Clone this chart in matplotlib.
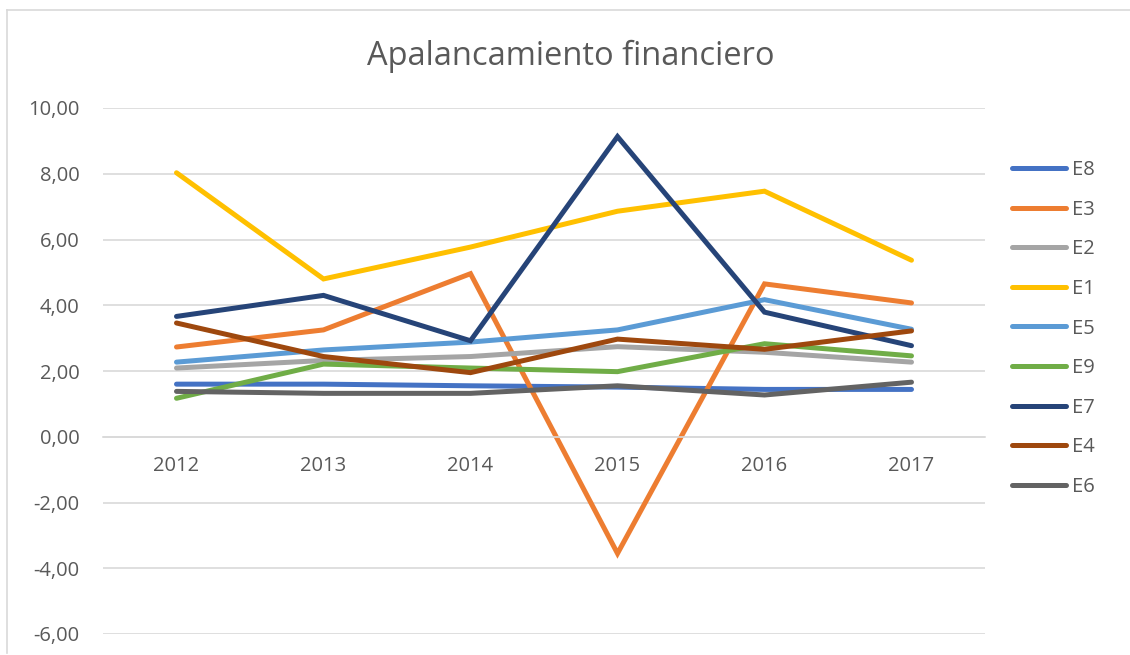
import matplotlib
matplotlib.use('Agg')
import matplotlib.pyplot as plt
from matplotlib.lines import Line2D

years = ['2012', '2013', '2014', '2015', '2016', '2017']

# series in legend order
E8 = [1.60, 1.60, 1.55, 1.51, 1.44, 1.44]
E3 = [2.73, 3.25, 4.96, -3.55, 4.65, 4.07]
E2 = [2.09, 2.32, 2.44, 2.74, 2.57, 2.27]
E1 = [8.03, 4.80, 5.77, 6.86, 7.47, 5.37]
E5 = [2.27, 2.64, 2.88, 3.25, 4.17, 3.27]
E9 = [1.17, 2.21, 2.09, 1.98, 2.83, 2.46]
E7 = [3.66, 4.30, 2.92, 9.13, 3.79, 2.77]
E4 = [3.46, 2.44, 1.95, 2.97, 2.66, 3.22]
E6 = [1.38, 1.32, 1.32, 1.55, 1.27, 1.66]

names = ['E8', 'E3', 'E2', 'E1', 'E5', 'E9', 'E7', 'E4', 'E6']
series = [E8, E3, E2, E1, E5, E9, E7, E4, E6]
colors = ['#4472C4', '#ED7D31', '#A5A5A5', '#FFC000', '#5B9BD5',
          '#70AD47', '#264478', '#9E480E', '#636363']

plt.rcParams['font.family'] = ['Open Sans', 'DejaVu Sans']
txt = '#595959'
grid = '#D9D9D9'

fig = plt.figure(figsize=(11.3, 6.55), dpi=100)
ax = fig.add_axes([103 / 1130, 1 - 634 / 655, 882 / 1130, 526 / 655])

x = list(range(len(years)))
for name, vals, c in zip(names, series, colors):
    ax.plot(x, vals, color=c, linewidth=3.6, label=name,
            solid_capstyle='round', solid_joinstyle='miter')

ax.set_xlim(-0.5, len(years) - 0.5)
ax.set_ylim(-6, 10)
ax.set_yticks(range(-6, 11, 2))
ax.set_yticklabels([f'{v:.2f}'.replace('.', ',') for v in range(-6, 11, 2)])
ax.set_xticks(x)
ax.set_xticklabels(years)

ax.yaxis.grid(True, color=grid, linewidth=1.2)
ax.set_axisbelow(True)
for s in ['top', 'right', 'left']:
    ax.spines[s].set_visible(False)
ax.spines['bottom'].set_position(('data', 0))
ax.spines['bottom'].set_color(grid)
ax.spines['bottom'].set_linewidth(1.2)
ax.tick_params(axis='both', length=0, colors=txt, labelsize=14.5)
ax.tick_params(axis='x', pad=14)
ax.tick_params(axis='y', pad=17)

fig.text(571 / 1130, 1 - 56 / 655, 'Apalancamiento financiero',
         ha='center', va='center', fontsize=23.5, color=txt)

handles = [Line2D([], [], color=c, linewidth=3.6, solid_capstyle='round')
           for c in colors]
fig.legend(handles, names, loc='center left',
           bbox_to_anchor=(1012 / 1130, 1 - 328.5 / 655), frameon=False,
           fontsize=14.5, labelcolor=txt, handlelength=2.7, handletextpad=0.3,
           labelspacing=0.97, borderpad=0, borderaxespad=0)

# chart area border (partially visible in the screenshot)
fig.add_artist(Line2D([7 / 1130, 7 / 1130], [1 - 653 / 655, 1 - 10 / 655],
                      transform=fig.transFigure, color=grid, linewidth=1.2))
fig.add_artist(Line2D([7 / 1130, 1], [1 - 10 / 655, 1 - 10 / 655],
                      transform=fig.transFigure, color=grid, linewidth=1.2))

fig.savefig('out.png', dpi=100)
